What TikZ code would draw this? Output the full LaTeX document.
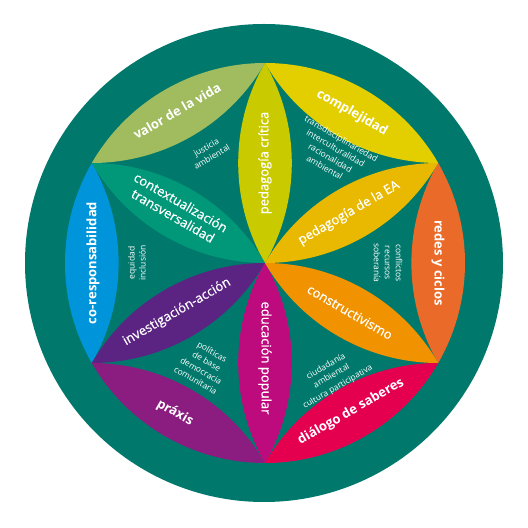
\documentclass[tikz,border=0pt]{standalone}
\usepackage{fontspec}
\setmainfont{Open Sans}
\newfontfamily\medfont{Open Sans}[FakeBold=0.7]
\definecolor{tealbg}{HTML}{00796C}
\definecolor{cPedCrit}{HTML}{C9CB00}
\definecolor{cCompl}{HTML}{E3CF00}
\definecolor{cValor}{HTML}{A0BC5E}
\definecolor{cPedEA}{HTML}{E9B800}
\definecolor{cRedes}{HTML}{EA6A2A}
\definecolor{cConstr}{HTML}{F19300}
\definecolor{cDialogo}{HTML}{E4004F}
\definecolor{cEduPop}{HTML}{BD0B7E}
\definecolor{cPraxis}{HTML}{8B1C80}
\definecolor{cInvest}{HTML}{5B2483}
\definecolor{cCoresp}{HTML}{0095DA}
\definecolor{cContext}{HTML}{009878}
\newcommand{\mylens}[3]{%
  \fill[#3] (#1) arc[start angle=#2-120, end angle=#2-60, radius=200]
                 arc[start angle=#2+60, end angle=#2+120, radius=200] -- cycle;}
\tikzset{
  inlabel/.style={text=white, font=\medfont\fontsize{13}{15.5}\selectfont, align=center, inner sep=0pt},
  outlabel/.style={text=white, font=\bfseries\fontsize{13}{15}\selectfont, align=center, inner sep=0pt},
  smalltxt/.style={text=white, font=\fontsize{8.5}{11}\selectfont, align=center, inner sep=0pt},
}
\begin{document}
\begin{tikzpicture}[x=1pt,y=1pt]
\fill[white] (0,0) rectangle (528,528);
\useasboundingbox (0,0) rectangle (528,528);
\fill[tealbg] (264,265) circle[radius=239];
\coordinate (O) at (265,265);
\coordinate (V0) at (265,465);
\coordinate (V1) at (91.8,365);
\coordinate (V2) at (91.8,165);
\coordinate (V3) at (265,65);
\coordinate (V4) at (438.2,165);
\coordinate (V5) at (438.2,365);
% outer petals
\mylens{V0}{210}{cValor}
\mylens{V1}{270}{cCoresp}
\mylens{V2}{330}{cPraxis}
\mylens{V3}{30}{cDialogo}
\mylens{V4}{90}{cRedes}
\mylens{V5}{150}{cCompl}
% inner petals
\mylens{O}{90}{cPedCrit}
\mylens{O}{150}{cContext}
\mylens{O}{210}{cInvest}
\mylens{O}{270}{cEduPop}
\mylens{O}{330}{cConstr}
\mylens{O}{30}{cPedEA}
% inner labels
\node[inlabel, rotate=90] (pc) at (265,365) {pedagogía crítica};
\node[inlabel, rotate=-30] (ct) at (177,319) {contextualización\\transversalidad};
\node[inlabel, rotate=30] (ia) at (177,216) {investigación-acción};
\node[inlabel, rotate=-90] (ep) at (265,170) {educación popular};
\node[inlabel, rotate=-30] (cs) at (350,216) {constructivismo};
\node[inlabel, rotate=30] (pea) at (349,315) {pedagogía de la EA};
% outer labels
\node[outlabel, rotate=30] (vv) at (177,417) {valor de la vida};
\node[outlabel, rotate=90] (cr) at (93,265) {co-responsabilidad};
\node[outlabel, rotate=-30] (px) at (175,115) {práxis};
\node[outlabel, rotate=30] (ds) at (351,116) {diálogo de saberes};
\node[outlabel, rotate=-90] (rc) at (438,265) {redes y ciclos};
\node[outlabel, rotate=-30] (cj) at (352,415) {complejidad};
% small texts
\node[smalltxt, rotate=30] (ja) at (209,376) {justicia\\ambiental};
\node[smalltxt, rotate=-30] (tr) at (333,375) {transdisciplinariedad\\interculturalidad\\racionalidad\\ambiental};
\node[smalltxt, rotate=90] (eq) at (137,265) {equidad\\inclusión};
\node[smalltxt, rotate=-30] (pol) at (204,162) {políticas\\de base\\democracia\\comunitaria};
\node[smalltxt, rotate=30] (cd) at (332,151) {ciudadanía\\ambiental\\[1.5pt]cultura participativa};
\node[smalltxt, rotate=-90] (cf) at (388,265) {conflictos\\recursos\\soberanía};
\end{tikzpicture}
\end{document}
